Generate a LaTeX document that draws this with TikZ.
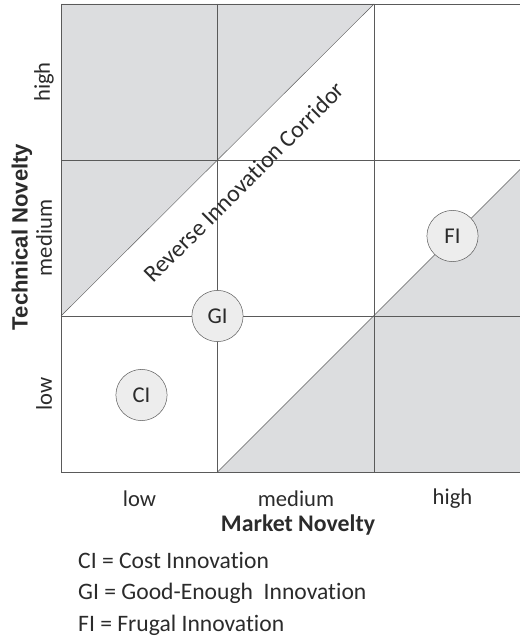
\documentclass[tikz,border=0pt]{standalone}
\usepackage{fontspec}
\setmainfont{Carlito}[Ligatures=NoCommon]
\newfontfamily\arialbold{Liberation Sans}[Ligatures=NoCommon]
\definecolor{gridline}{HTML}{5A5A5A}
\definecolor{cellgray}{HTML}{DCDDDF}
\definecolor{bubblefill}{HTML}{EDEDED}
\definecolor{ink}{HTML}{2B2B2B}

\begin{document}
\begin{tikzpicture}[scale=0.35]
\tikzstyle{every node}+=[text=ink, font=\fontsize{22.5}{26}\selectfont]
\tikzstyle{innov}=[circle, draw=gridline, fill=bubblefill, inner sep=0pt, minimum size=51pt, line width=0.5pt]
\tikzstyle{legend}=[right, inner sep=0pt, font=\fontsize{23.5}{28}\selectfont]
\clip (0,0) rectangle (52,-63.7);
% shaded corners
\fill [cellgray] (6.1,-31.6) -- (6.1,-0.4) -- (37.4,-0.4) -- cycle;
\fill [cellgray] (21.75,-47.2) -- (53.05,-15.9) -- (53.05,-47.2) -- cycle;
% grid
\draw [gridline, line width=0.6pt] (6.1,-0.4) rectangle (53.05,-47.2);
\draw [gridline, line width=0.6pt] (21.75,-0.4) -- (21.75,-47.2);
\draw [gridline, line width=0.6pt] (37.4,-0.4) -- (37.4,-47.2);
\draw [gridline, line width=0.6pt] (6.1,-16.0) -- (53.05,-16.0);
\draw [gridline, line width=0.6pt] (6.1,-31.6) -- (53.05,-31.6);
% corridor edges
\draw [gridline, line width=0.4pt] (6.1,-31.6) -- (37.4,-0.4);
\draw [gridline, line width=0.4pt] (21.75,-47.2) -- (53.05,-15.9);
\draw (24.4,-18.2) node [rotate=45, font=\fontsize{23.8}{28}\selectfont] (corridor) {Reverse Innovation Corridor};
% innovation types
\draw (14.15,-39.5) node [innov] (ci) {CI};
\draw (21.75,-31.6) node [innov] (gi) {GI};
\draw (45.25,-23.6) node [innov] (fi) {FI};
% technical novelty axis
\draw (4.4,-8.2) node [rotate=90] (yhigh) {high};
\draw (4.4,-23.8) node [rotate=90] (ymed) {medium};
\draw (4.4,-39.4) node [rotate=90] (ylow) {low};
\draw (2.2,-23.7) node [rotate=90, font=\fontsize{22}{26}\selectfont\arialbold\bfseries] (ytitle) {Technical Novelty};
% market novelty axis
\draw (13.95,-49.9) node (xlow) {low};
\draw (29.6,-49.9) node (xmed) {medium};
\draw (45.25,-49.9) node (xhigh) {high};
\draw (29.8,-52.5) node [font=\fontsize{23.7}{28}\selectfont\bfseries] (xtitle) {Market Novelty};
% legend
\draw (7.8,-56.0) node [legend] (leg1) {CI = Cost Innovation};
\draw (7.8,-59.3) node [legend] (leg2) {GI = Good-Enough\ \ Innovation};
\draw (7.8,-62.5) node [legend] (leg3) {FI = Frugal Innovation};
\end{tikzpicture}
\end{document}
